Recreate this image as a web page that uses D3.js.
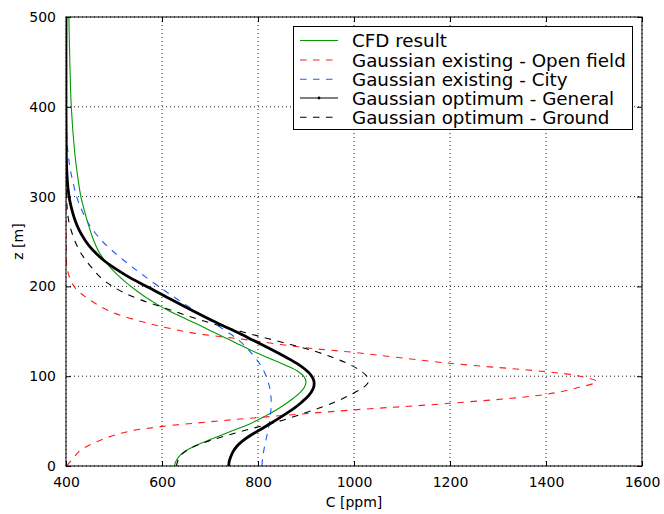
<!DOCTYPE html>
<html>
<head>
<meta charset="utf-8">
<script src="https://cdn.jsdelivr.net/npm/d3@7"></script>
<style>
  html, body { margin: 0; padding: 0; background: #fff; }
  text { font-family: "DejaVu Sans", sans-serif; }
</style>
</head>
<body>
<svg id="chart" width="664" height="514"></svg>
<script>
// ---- data (C [ppm] vs z [m]) ----
const xTicks = [400, 600, 800, 1000, 1200, 1400, 1600];
const yTicks = [0, 100, 200, 300, 400, 500];
const seriesNames = ["CFD result", "Gaussian existing - Open field", "Gaussian existing - City", "Gaussian optimum - General", "Gaussian optimum - Ground"];

const cfdZ = [0, 4, 8, 12, 16, 20, 25, 30, 36, 42, 48, 55, 62, 69, 76, 82, 88, 94, 100, 106, 112, 118, 124, 130, 137, 144, 151, 158, 165, 172, 180, 188, 196, 204, 212, 220, 230, 240, 255, 270, 285, 300, 320, 350, 400, 450, 500];
const cfdC = [626, 628, 632, 638, 647, 660, 680, 703, 731, 760, 787, 813, 837, 857, 875, 888, 897, 900, 895, 881, 858, 832, 806, 781, 754, 727, 700, 673, 645, 617, 590, 566, 545, 526, 509, 494, 479, 467, 455, 446, 438, 431, 425, 418, 411, 408, 406];

const openZ = [0, 1, 8, 17.8, 29, 38.2, 43.8, 49.3, 52.3, 62.4, 69.8, 79.8, 87.6, 94, 100.2, 105, 114.4, 126.6, 131.1, 141, 144, 148, 153.3, 160, 172, 186.7, 199.7, 218.3, 240, 260, 500];
const openC = [402, 403, 414, 431, 473, 528, 597, 701, 763, 998, 1199, 1400, 1469, 1506, 1469, 1400, 1199, 998, 909, 770, 722, 666, 615, 563, 493, 445, 417, 403, 400.5, 400, 400];

const cityZ = [0, 10, 20, 30, 40, 50, 60, 70, 80, 90, 100, 110, 120, 130, 140, 150, 160, 170, 180, 190, 200, 210, 220, 230, 240, 250, 260, 270, 280, 290, 300, 315, 330, 345, 360, 380, 400, 500];
const cityC = [808, 810, 813, 817, 821, 824, 826.5, 827.5, 826.5, 823, 817, 808, 795, 779, 760, 734, 706, 677, 648, 620, 593, 567, 542, 518, 496, 476, 460, 447, 437, 429, 422, 415, 409, 405, 402.5, 401, 400.5, 400];

const generalZ = [0, 5, 10, 16, 22, 28, 34, 40, 47, 55, 63, 71, 78, 85, 91, 97, 104, 111, 118, 125, 132, 140, 148, 156, 164, 172, 180, 188, 196, 204, 212, 220, 228, 236, 244, 252, 262, 272, 282, 295, 310, 330, 350, 400, 500];
const generalC = [739, 740, 743, 748, 756, 768, 784, 803, 825, 849, 872, 891, 905, 914, 917, 915, 906, 890, 869, 845, 820, 790, 760, 728, 697, 667, 638, 610, 582, 553, 526, 502, 481, 464, 450, 439, 428, 420, 414, 408, 404, 401.5, 400.5, 400, 400];

const groundZ = [0, 10, 16, 22, 28, 34, 40, 46, 52, 59, 66, 73, 80, 86, 91, 96, 101, 107, 114, 121, 128, 135, 142, 149, 156, 163, 170, 177, 185, 193, 201, 210, 220, 230, 240, 250, 262, 275, 290, 305, 330, 500];
const groundC = [630, 636, 648, 668, 698, 735, 775, 818, 858, 897, 935, 968, 995, 1015, 1027, 1031, 1025, 1011, 987, 955, 917, 870, 820, 770, 722, 678, 638, 600, 556, 521, 494, 472, 455, 440, 428, 419, 411, 405, 402, 400.5, 400, 400];

// ---- layout ----
const svg = d3.select("#chart");
const W = 664, H = 514;
const mLeft = 66, mRight = 642, mTop = 17, mBottom = 466;

const x = d3.scaleLinear().domain([400, 1600]).range([mLeft, mRight]);
const y = d3.scaleLinear().domain([0, 500]).range([mBottom, mTop]);

svg.append("rect").attr("width", W).attr("height", H).attr("fill", "#fff");

svg.append("defs").append("clipPath").attr("id", "clip")
  .append("rect").attr("x", mLeft).attr("y", mTop).attr("width", mRight - mLeft).attr("height", mBottom - mTop);

// grid
const grid = svg.append("g");
grid.selectAll("line.gx").data(xTicks).join("line")
  .attr("x1", d => x(d)).attr("x2", d => x(d)).attr("y1", mTop).attr("y2", mBottom)
  .attr("stroke", "#222").attr("stroke-width", 1).attr("stroke-dasharray", "1,3");
grid.selectAll("line.gy").data(yTicks).join("line")
  .attr("y1", d => y(d)).attr("y2", d => y(d)).attr("x1", mLeft).attr("x2", mRight)
  .attr("stroke", "#222").attr("stroke-width", 1).attr("stroke-dasharray", "1,3");

// series
const series = [
  {z: cfdZ, c: cfdC, color: "#009900", width: 1.1, dash: null},
  {z: openZ, c: openC, color: "#ff1a1a", width: 1.1, dash: "6.5,6.5"},
  {z: cityZ, c: cityC, color: "#1a5cff", width: 1.1, dash: "6.5,6.5"},
  {z: generalZ, c: generalC, color: "#000", width: 2.8, dash: null},
  {z: groundZ, c: groundC, color: "#000", width: 1.1, dash: "6.5,6.5"}
];

const line = d3.line().x(d => x(d[0])).y(d => y(d[1])).curve(d3.curveCatmullRom.alpha(0.5));
const plot = svg.append("g").attr("clip-path", "url(#clip)");
series.forEach(s => {
  const pts = s.z.map((zz, i) => [s.c[i], zz]);
  plot.append("path").attr("d", line(pts))
    .attr("fill", "none").attr("stroke", s.color).attr("stroke-width", s.width)
    .attr("stroke-dasharray", s.dash);
});

// axes (ticks inward, all four sides)
const fs = 14;
const fmt = d3.format("d");
const axB = svg.append("g").attr("transform", `translate(0,${mBottom})`)
  .call(d3.axisBottom(x).tickValues(xTicks).tickFormat(fmt).tickSizeInner(-5).tickSizeOuter(0).tickPadding(11));
const axT = svg.append("g").attr("transform", `translate(0,${mTop})`)
  .call(d3.axisTop(x).tickValues(xTicks).tickSizeInner(-5).tickSizeOuter(0).tickFormat(""));
const axL = svg.append("g").attr("transform", `translate(${mLeft},0)`)
  .call(d3.axisLeft(y).tickValues(yTicks).tickFormat(fmt).tickSizeInner(-5).tickSizeOuter(0).tickPadding(10));
const axR = svg.append("g").attr("transform", `translate(${mRight},0)`)
  .call(d3.axisRight(y).tickValues(yTicks).tickSizeInner(-5).tickSizeOuter(0).tickFormat(""));
[axB, axT, axL, axR].forEach(a => {
  a.select(".domain").remove();
  a.selectAll(".tick line").attr("stroke", "#000").attr("stroke-width", 1);
  a.selectAll(".tick text").attr("font-family", "DejaVu Sans").attr("font-size", fs).attr("fill", "#000");
});

// frame
svg.append("rect").attr("x", mLeft).attr("y", mTop).attr("width", mRight - mLeft).attr("height", mBottom - mTop)
  .attr("fill", "none").attr("stroke", "#000").attr("stroke-width", 1);

// axis labels
svg.append("text").attr("x", (mLeft + mRight) / 2).attr("y", 507).attr("text-anchor", "middle")
  .attr("font-size", fs).text("C [ppm]");
svg.append("text").attr("transform", `translate(23,${(mTop + mBottom) / 2}) rotate(-90)`)
  .attr("text-anchor", "middle").attr("font-size", fs).text("z [m]");

// legend
const lg = svg.append("g");
lg.append("rect").attr("x", 293.5).attr("y", 26.5).attr("width", 339).attr("height", 103)
  .attr("fill", "#fff").attr("stroke", "#000").attr("stroke-width", 1);
const rowY = [40.5, 60, 79.3, 98, 117.3];
series.forEach((s, i) => {
  lg.append("line").attr("x1", 300).attr("x2", 338).attr("y1", rowY[i]).attr("y2", rowY[i])
    .attr("stroke", s.color).attr("stroke-width", 1.1).attr("stroke-dasharray", s.dash);
  if (i === 3) {
    lg.append("circle").attr("cx", 319).attr("cy", rowY[i]).attr("r", 1.4).attr("fill", "#000");
  }
  lg.append("text").attr("x", 352).attr("y", rowY[i]).attr("dy", "0.36em")
    .attr("font-size", 18.3).text(seriesNames[i]);
});
</script>
</body>
</html>
